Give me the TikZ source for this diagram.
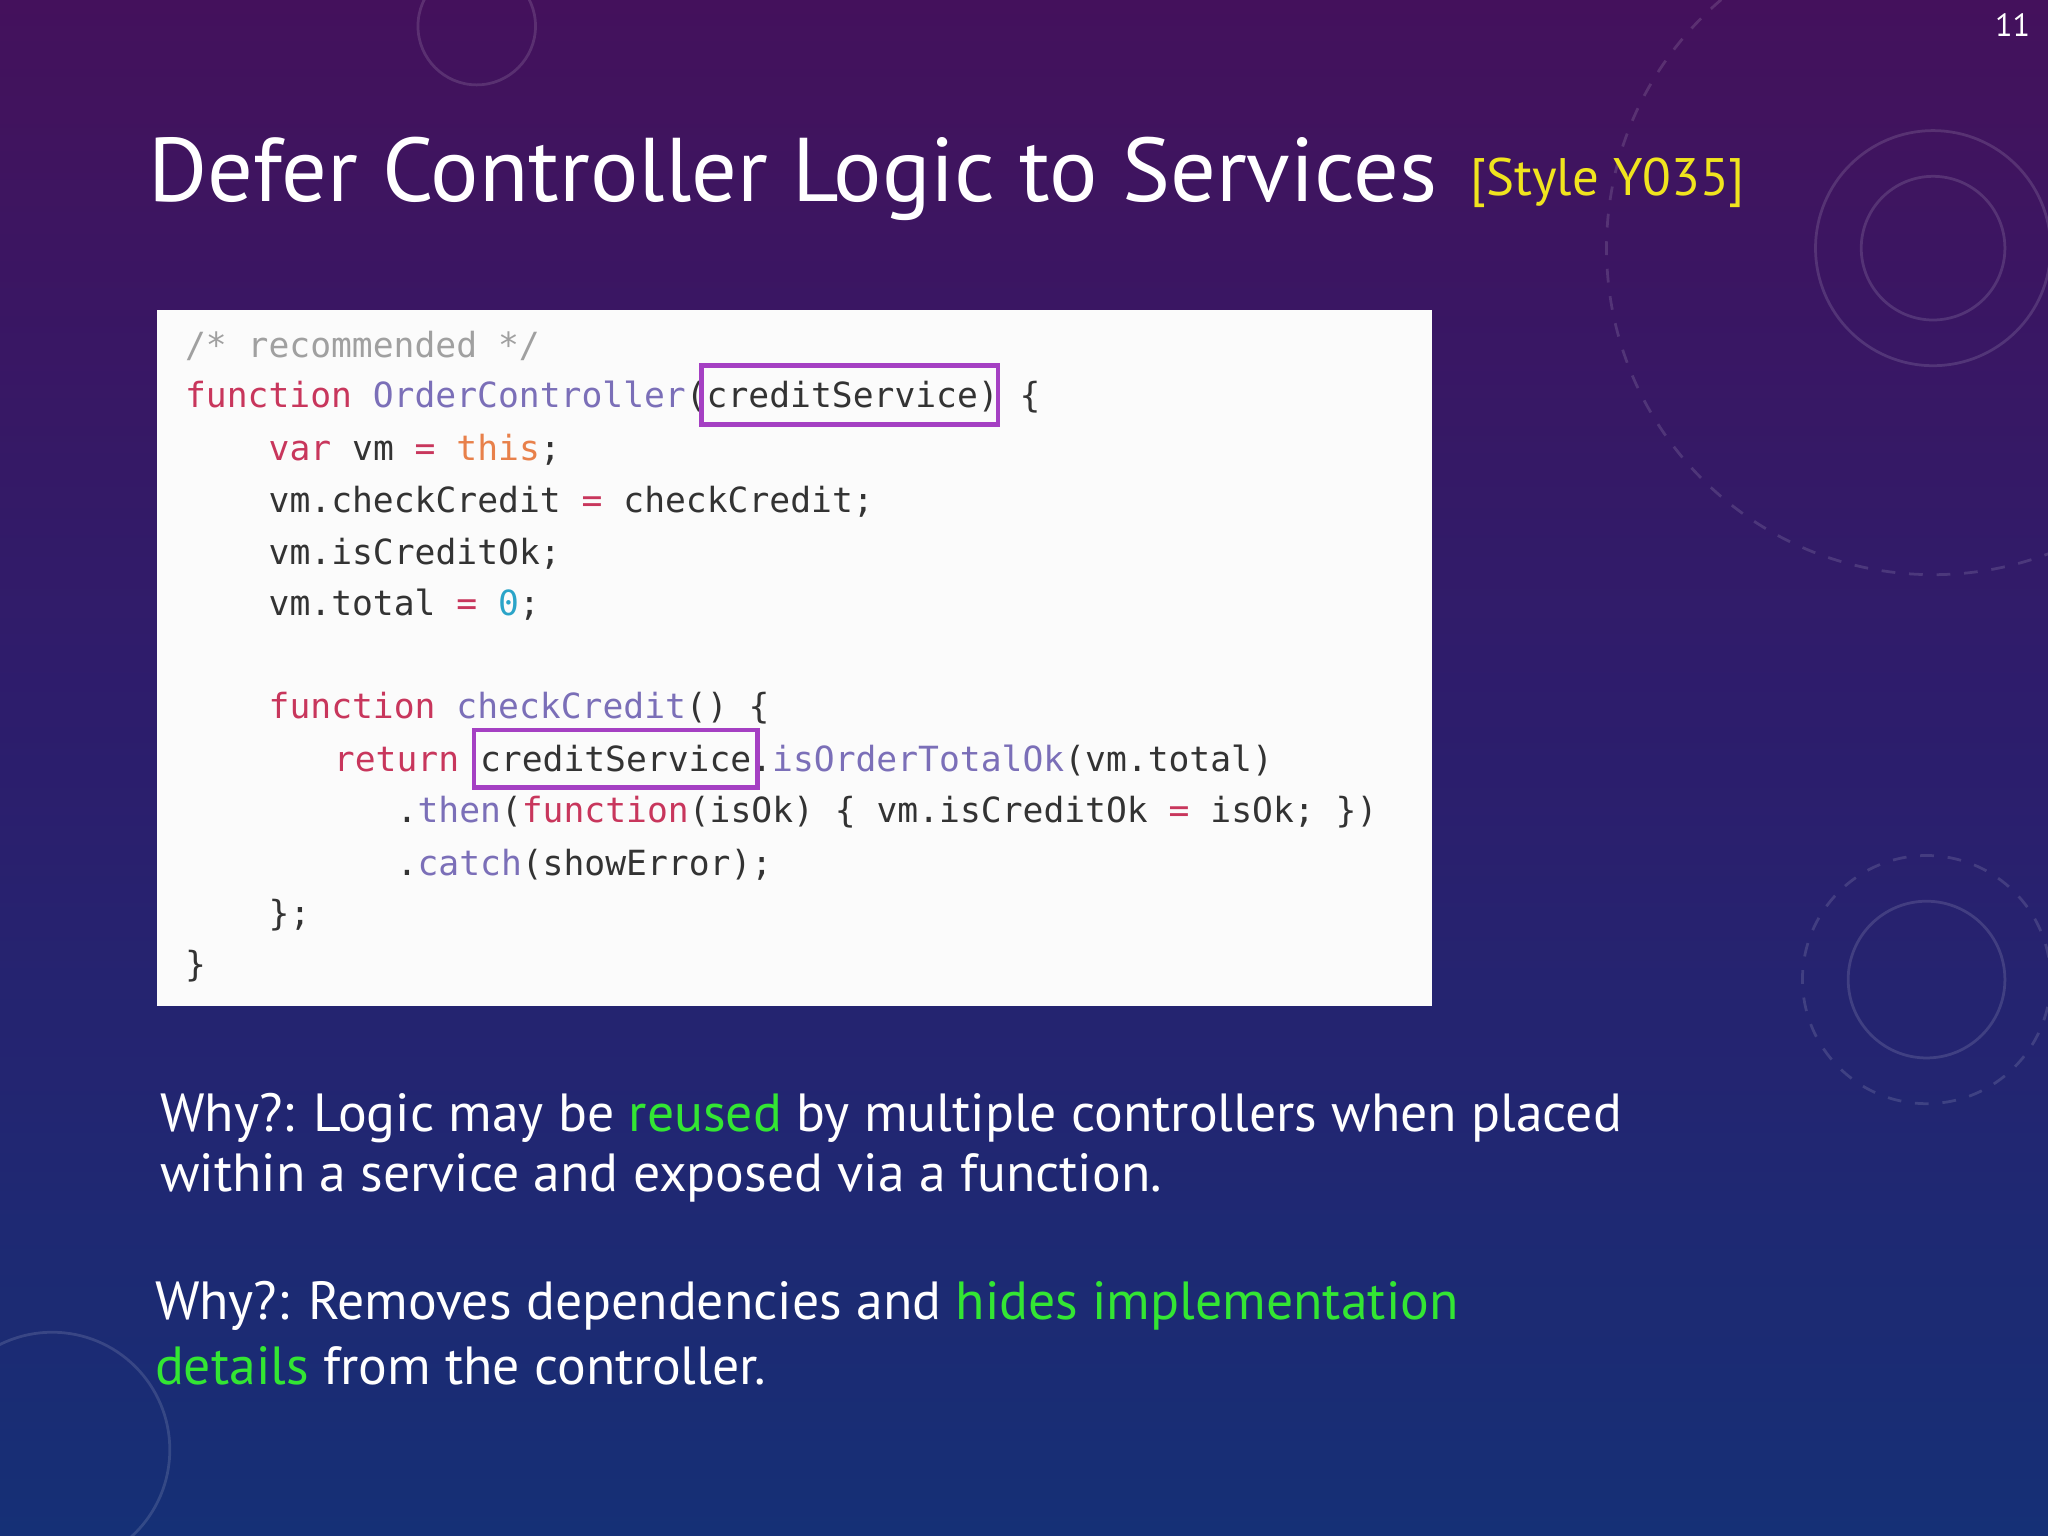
\documentclass[tikz,border=0pt]{standalone}
\usepackage{fontspec}
\setmainfont{PT Sans}
\setmonofont{DejaVu Sans Mono}
\definecolor{kw}{RGB}{200,54,92}
\definecolor{fn}{RGB}{123,111,184}
\definecolor{th}{RGB}{232,128,74}
\definecolor{nm}{RGB}{42,164,200}
\definecolor{cm}{RGB}{160,160,160}
\definecolor{tx}{RGB}{51,51,51}
\definecolor{hl}{RGB}{165,64,195}
\definecolor{gr}{RGB}{51,230,51}
\definecolor{yl}{RGB}{240,228,30}
\begin{document}
\begin{tikzpicture}[x=1mm,y=-1mm,
  code/.style={anchor=west,inner sep=0,font=\fontsize{7.55}{9}\ttfamily,text=tx},
  body/.style={anchor=west,inner sep=0,font=\fontsize{11.7}{14}\selectfont,text=white},
  hlbox/.style={draw=hl,line width=1pt},
  deco/.style={draw=white,opacity=0.13,line width=0.6pt}]
\useasboundingbox (0,0) rectangle (156.8,117.6);
\shade[top color={rgb,255:red,78;green,20;blue,105},bottom color={rgb,255:red,25;green,55;blue,135},middle color={rgb,255:red,50;green,35;blue,125}] (0,0) rectangle (156.8,117.6);
\fill[black,opacity=0.12] (0,0) rectangle (156.8,117.6);
% decorations
\draw[deco] (148,19) circle (5.5);
\draw[deco] (148,19) circle (9);
\draw[deco,dashed] (148,19) circle (25);
\draw[deco] (147.5,75) circle (6);
\draw[deco,dashed] (147.5,75) circle (9.5);
\draw[deco] (4,111) circle (9);
\draw[deco] (36.5,2) circle (4.5);
\node[anchor=north east,inner sep=0,text=white,font=\fontsize{7}{8}\selectfont] (pg) at (155.5,1) {11};
% title
\node[anchor=west,inner sep=0,text=white,font=\fontsize{19.7}{24}\selectfont] (title) at (11.3,13.7) {Defer Controller Logic to Services};
\node[anchor=west,inner sep=0,text=yl,font=\fontsize{11.5}{14}\selectfont] (style) at (112.5,14) {[Style Y035]};
% code box
\fill[white!97!gray] (12,23.7) rectangle (109.6,77);
\node[code,text=cm] (c1) at (14.1,26.5) {/* recommended */};
\node[code] (c2) at (14.1,30.4) {\textcolor{kw}{function} \textcolor{fn}{OrderController}(creditService) \{};
\node[code] (c3) at (20.5,34.4) {\textcolor{kw}{var} vm \textcolor{kw}{=} \textcolor{th}{this};};
\node[code] (c4) at (20.5,38.4) {vm.checkCredit \textcolor{kw}{=} checkCredit;};
\node[code] (c5) at (20.5,42.4) {vm.isCreditOk;};
\node[code] (c6) at (20.5,46.3) {vm.total \textcolor{kw}{=} \textcolor{nm}{0};};
\node[code] (c7) at (20.5,54.2) {\textcolor{kw}{function} \textcolor{fn}{checkCredit}() \{};
\node[code] (c8) at (25.5,58.2) {\textcolor{kw}{return} creditService.\textcolor{fn}{isOrderTotalOk}(vm.total)};
\node[code] (c9) at (30.3,62.2) {.\textcolor{fn}{then}(\textcolor{kw}{function}(isOk) \{ vm.isCreditOk \textcolor{kw}{=} isOk; \})};
\node[code] (c10) at (30.3,66.2) {.\textcolor{fn}{catch}(showError);};
\node[code] (c11) at (20.5,70.1) {\};};
\node[code] (c12) at (14.1,74) {\}};
\draw[hlbox] (53.7,28) rectangle (76.4,32.5);
\draw[hlbox] (36.3,55.9) rectangle (58,60.3);
% body
\node[body] (b1) at (12.2,85.6) {Why?: Logic may be \textcolor{gr}{reused} by multiple controllers when placed};
\node[body] (b2) at (12.2,90.2) {within a service and exposed via a function.};
\node[body] (b3) at (11.8,100) {Why?: Removes dependencies and \textcolor{gr}{hides implementation}};
\node[body] (b4) at (11.8,104.6) {\textcolor{gr}{details} from the controller.};
\end{tikzpicture}
\end{document}
